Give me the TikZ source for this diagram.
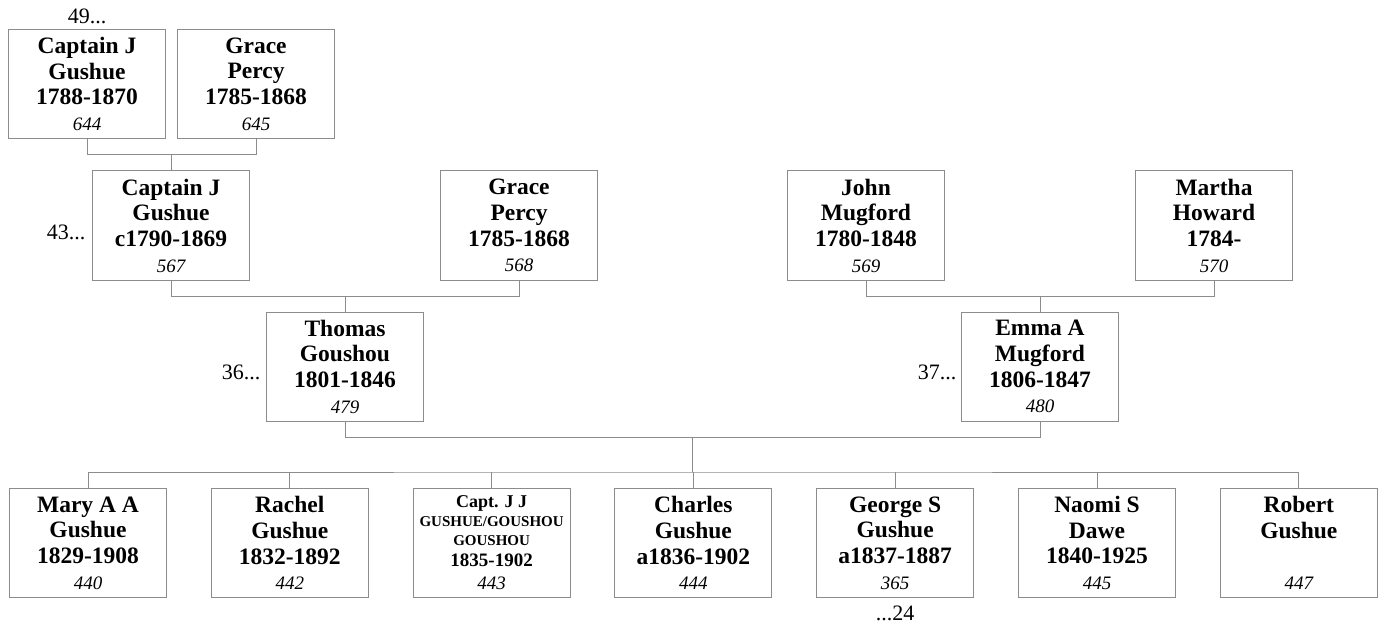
\documentclass[tikz,border=0pt]{standalone}
\usepackage{fontspec}
\setmainfont{Liberation Serif}
\usetikzlibrary{positioning,calc}
\definecolor{BoxGray}{HTML}{8C8C8C}
\definecolor{LinkGray}{HTML}{8C8C8C}
\newcommand{\refno}[1]{{\fontsize{19}{25.7}\selectfont\mdseries\itshape #1}}

\begin{document}
\begin{tikzpicture}[x=1pt, y=-1pt, node distance=44.8pt,
  every node/.style={font=\fontsize{23.5}{25.7}\selectfont\bfseries},
  person/.style={draw=BoxGray, line width=1pt, minimum width=157pt, minimum height=109pt, inner sep=0pt, outer sep=0pt, align=center},
  link/.style={draw=LinkGray, line width=1pt},
  gen/.style={font=\fontsize{22}{24}\selectfont, inner sep=0pt}]
  \useasboundingbox (0,0) rectangle (1382,623);
  % great-grandparents
  \node[person] (capj1) at (87,84) {Captain J\\Gushue\\1788-1870\\\refno{644}};
  \node[person, right=12pt of capj1] (grace1) {Grace\\Percy\\1785-1868\\\refno{645}};
  % grandparents
  \node[person] (capj2) at (171,225.5) {Captain J\\Gushue\\c1790-1869\\\refno{567}};
  \node[person] (grace2) at (519,225.5) {Grace\\Percy\\1785-1868\\\refno{568}};
  \node[person] (john) at (866,225.5) {John\\Mugford\\1780-1848\\\refno{569}};
  \node[person] (martha) at (1214,225.5) {Martha\\Howard\\1784-\\\refno{570}};
  % parents
  \node[person] (thomas) at (345,366.5) {Thomas\\Goushou\\1801-1846\\\refno{479}};
  \node[person] (emma) at (1040,366.5) {Emma A\\Mugford\\1806-1847\\\refno{480}};
  % children
  \node[person] (mary) at (88,543) {Mary A A\\Gushue\\1829-1908\\\refno{440}};
  \node[person, right=of mary] (rachel) {Rachel\\Gushue\\1832-1892\\\refno{442}};
  \node[person, right=of rachel, font=\fontsize{18}{19}\selectfont\bfseries] (capjj)
    {Capt. J J\\{\fontsize{15}{17}\selectfont GUSHUE/GOUSHOU}\\{\fontsize{15}{17}\selectfont GOUSHOU}\\[2pt]{\fontsize{19}{19}\selectfont 1835-1902}\\[4pt]\refno{443}};
  \node[person, right=of capjj] (charles) {Charles\\Gushue\\a1836-1902\\\refno{444}};
  \node[person, right=of charles] (george) {George S\\Gushue\\a1837-1887\\\refno{365}};
  \node[person, right=of george] (naomi) {Naomi S\\Dawe\\1840-1925\\\refno{445}};
  \node[person, right=of naomi] (robert) {Robert\\Gushue\\\\\refno{447}};
  % generation marks
  \node[gen, anchor=base] (up49) at ([yshift=6pt]capj1.north) {49...};
  \node[gen, anchor=base east] (up43) at ([xshift=-7pt,yshift=-14pt]capj2.west) {43...};
  \node[gen, anchor=base east] (up36) at ([xshift=-6pt,yshift=-13pt]thomas.west) {36...};
  \node[gen, anchor=base east] (up37) at ([xshift=-5pt,yshift=-13pt]emma.west) {37...};
  \node[gen, anchor=base] (dn24) at ([yshift=-23pt]george.south) {...24};
  % family lines
  \draw[link] (capj1.south) -- ++(0,-16pt) coordinate (bar1) -| (grace1.south);
  \draw[link] (capj2.north) -- (capj2.north |- bar1);
  \draw[link] (capj2.south) -- ++(0,-16pt) coordinate (bar2) -| (grace2.south);
  \draw[link] (thomas.north) -- (thomas.north |- bar2);
  \draw[link] (john.south) -- ++(0,-16pt) coordinate (bar3) -| (martha.south);
  \draw[link] (emma.north) -- (emma.north |- bar3);
  \draw[link] (thomas.south) -- ++(0,-16pt) coordinate (bar4) -| (emma.south);
  \coordinate (mid4) at ($(bar4)!0.5!(emma.south |- bar4)$);
  \draw[link] (mid4) -- ++(0,-35pt) coordinate (kids);
  \draw[link] (mary.north) |- (kids) -| (robert.north);
  \foreach \kid in {rachel,capjj,charles,george,naomi}
    \draw[link] (\kid.north) -- (\kid.north |- kids);
\end{tikzpicture}
\end{document}
